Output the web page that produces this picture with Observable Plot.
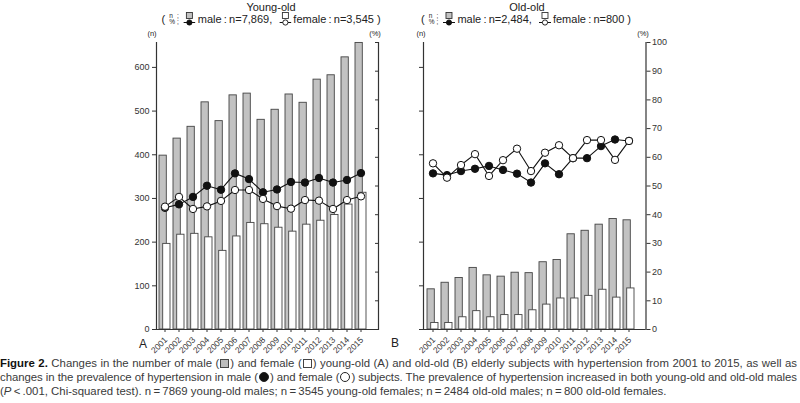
<!DOCTYPE html>
<html><head><meta charset="utf-8">
<script src="https://cdn.jsdelivr.net/npm/d3@7"></script>
<script src="https://cdn.jsdelivr.net/npm/@observablehq/plot@0.6"></script>
<style>
body{margin:0;background:#fff;font-family:"Liberation Sans",Arial,sans-serif;color:#222;}
#root{position:relative;width:800px;height:403px;overflow:hidden;background:#fff;}
.abs{position:absolute;white-space:nowrap;}
.title{font-size:11px;transform:translateX(-50%);line-height:12px;}
.leg{font-size:11px;transform:translateX(-50%);display:flex;align-items:center;line-height:12px;}
.stk{display:inline-flex;flex-direction:column;font-size:6.5px;line-height:6px;margin:0 1px;}
.unit{font-size:7.5px;transform:translateX(-50%);}
.pl{font-size:12px;}
.cap{left:0;font-size:11.4px;line-height:14px;color:#3a3a3a;white-space:nowrap;}
.cap b{color:#111;}
.sq{display:inline-block;width:7px;height:7px;border:1px solid #444;vertical-align:-1px;margin:0 1px;}
.ci{display:inline-block;width:8px;height:8px;border:1px solid #222;border-radius:50%;vertical-align:-1px;margin:0 1px;}
</style></head><body><div id="root"></div>
<script>
const years = [2001,2002,2003,2004,2005,2006,2007,2008,2009,2010,2011,2012,2013,2014,2015];
// Young-old (A)
const youngMaleN   = [398,437,464,520,477,536,540,480,503,538,519,572,582,623,656];
const youngFemaleN = [196,217,219,211,180,213,244,241,233,224,240,249,262,286,313];
const youngMaleP   = [42.4,43.6,46.2,50.1,48.7,54.4,52.4,47.8,48.8,51.4,51.2,52.8,51.2,52.1,54.5];
const youngFemaleP = [42.8,46.2,42.0,42.9,44.8,48.6,48.6,45.5,43.0,42.1,45.1,44.9,42.0,45.1,46.4];
// Old-old (B)
const oldMaleN   = [92,107,118,141,124,121,130,129,154,159,218,226,240,253,250];
const oldFemaleN = [15,15,28,42,28,33,33,44,57,71,71,77,91,73,94];
const oldMaleP   = [54.4,53.8,55.2,56.0,57.0,55.6,54.3,51.2,57.9,54.1,59.7,59.7,63.9,66.2,65.7];
const oldFemaleP = [57.9,52.9,57.3,61.1,53.5,59.0,63.0,55.2,61.6,64.2,59.7,66.0,66.0,59.1,65.7];
const nTicks = [0,100,200,300,400,500,600];
const pTicks = [0,10,20,30,40,50,60,70,80,90,100];
const NMAX = 657;
const K = NMAX / 100;

function panel({maleN, femaleN, maleP, femaleP, width, marginLeft, marginRight, align, leftLabels, rightLabels}) {
  const rows = years.map((y, i) => ({year: y, mN: maleN[i], fN: femaleN[i], mP: maleP[i] * K, fP: femaleP[i] * K}));
  return Plot.plot({
    width, height: 355, marginTop: 42, marginBottom: 26, marginLeft, marginRight,
    style: {fontFamily: '"Liberation Sans", Arial, sans-serif', fontSize: "9px", color: "#333", background: "transparent", overflow: "visible"},
    x: {type: "band", domain: years, paddingInner: 0.23, paddingOuter: 0.165, align},
    y: {domain: [0, NMAX]},
    marks: [
      Plot.barY(rows, {x: "year", y: "mN", fill: "#c2c2c2", stroke: "#444", strokeWidth: 0.9, insetRight: 3.7}),
      Plot.barY(rows, {x: "year", y: "fN", fill: "#fff", stroke: "#444", strokeWidth: 0.9, insetLeft: 3.7}),
      Plot.ruleY([0], {stroke: "#333", strokeWidth: 1}),
      Plot.frame({anchor: "left", stroke: "#333", strokeWidth: 1.2}),
      Plot.frame({anchor: "right", stroke: "#333", strokeWidth: 1.2}),
      Plot.axisY(nTicks, {anchor: "left", tickSize: 4, tickPadding: 3, label: null, tickFormat: leftLabels ? (d => d) : (() => "")}),
      Plot.axisY(pTicks.map(p => p * K), {anchor: "right", tickSize: 4, tickPadding: 2, label: null, dx: rightLabels ? 0 : -4,
        tickFormat: rightLabels ? (d => Math.round(d / K)) : (() => "")}),
      Plot.axisX({anchor: "bottom", tickSize: 3, label: null, text: null}),
      Plot.text(years, {x: d => d, text: d => String(d), frameAnchor: "bottom", rotate: -45, textAnchor: "end",
        lineAnchor: "middle", dy: 9, dx: 1, fontSize: 8.5, fill: "#333"}),
      Plot.line(rows, {x: "year", y: "mP", stroke: "#111", strokeWidth: 1.1}),
      Plot.line(rows, {x: "year", y: "fP", stroke: "#111", strokeWidth: 1.1}),
      Plot.dot(rows, {x: "year", y: "mP", r: 3.7, fill: "#111", stroke: "#111", strokeWidth: 1}),
      Plot.dot(rows, {x: "year", y: "fP", r: 3.7, fill: "#fff", stroke: "#111", strokeWidth: 1})
    ]
  });
}

const root = document.getElementById("root");
function place(node, left, top) {
  const d = document.createElement("div");
  d.className = "abs"; d.style.left = left + "px"; d.style.top = top + "px";
  d.appendChild(node); root.appendChild(d); return d;
}
place(panel({maleN: youngMaleN, femaleN: youngFemaleN, maleP: youngMaleP, femaleP: youngFemaleP,
  width: 400, marginLeft: 156, marginRight: 22, align: 0.2, leftLabels: true, rightLabels: false}), 0, 0);
place(panel({maleN: oldMaleN, femaleN: oldFemaleN, maleP: oldMaleP, femaleP: oldFemaleP,
  width: 290, marginLeft: 23, marginRight: 44.5, align: 0.25, leftLabels: false, rightLabels: true}), 400, 0);

function glyph(fill, dot) {
  return `<svg width="12" height="14" style="margin:0 2px 0 1px"><rect x="3" y="0.5" width="6" height="6" fill="${fill}" stroke="#333" stroke-width="0.9"/>` +
    `<line x1="0" y1="10.5" x2="12" y2="10.5" stroke="#111" stroke-width="1"/><circle cx="6" cy="10.5" r="2.6" fill="${dot}" stroke="#111" stroke-width="0.9"/></svg>`;
}
function html(cls, left, top, inner) {
  const d = document.createElement("div");
  d.className = "abs " + cls; d.style.left = left + "px"; d.style.top = top + "px";
  d.innerHTML = inner; root.appendChild(d); return d;
}
const stk = `<span class="stk"><span>n</span><span>%</span></span><span class="stk"><span>;</span><span>;</span></span>`;
html("title", 271, 1, "Young-old");
html("leg", 271, 12, `(&nbsp;${stk}&nbsp;${glyph("#c2c2c2", "#111")}male&#8201;:&#8201;n=7,869,&nbsp;&nbsp;${glyph("#fff", "#fff")}female&#8201;:&#8201;n=3,545&nbsp;)`);
html("title", 527, 1, "Old-old");
html("leg", 526, 12, `(&nbsp;${stk}&nbsp;${glyph("#c2c2c2", "#111")}male&#8201;:&#8201;n=2,484,&nbsp;&nbsp;${glyph("#fff", "#fff")}female&#8201;:&#8201;n=800&nbsp;)`);
html("unit", 152, 29, "(n)");
html("unit", 375, 29, "(%)");
html("unit", 421, 29, "(n)");
html("unit", 643, 29, "(%)");
html("pl", 139, 337, "A");
html("pl", 391, 336, "B");
const c1 = html("cap", 0, 356, `<b>Figure 2.</b> Changes in the number of male (<span class="sq" style="background:#bdbdbd"></span>) and female (<span class="sq" style="background:#fff"></span>) young-old (A) and old-old (B) elderly subjects with hypertension from 2001 to 2015, as well as`);
const c2 = html("cap", 0, 370, `changes in the prevalence of hypertension in male (<span class="ci" style="background:#111"></span>) and female (<span class="ci" style="background:#fff"></span>) subjects. The prevalence of hypertension increased in both young-old and old-old males`);
html("cap", 0, 384, `(<i>P</i>&#8201;&lt;&#8201;.001, Chi-squared test). n&#8201;=&#8201;7869 young-old males; n&#8201;=&#8201;3545 young-old females; n&#8201;=&#8201;2484 old-old males; n&#8201;=&#8201;800 old-old females.`);
// fit justified lines to 797px
for (const c of [c1, c2]) {
  const w = c.getBoundingClientRect().width;
  const n = c.textContent.length;
  const spaces = (c.textContent.match(/ /g) || []).length;
  const diff = 797 - w;
  if (diff < 0) c.style.letterSpacing = (diff / n) + "px";
  else c.style.wordSpacing = (diff / spaces) + "px";
}
</script>
</body></html>
